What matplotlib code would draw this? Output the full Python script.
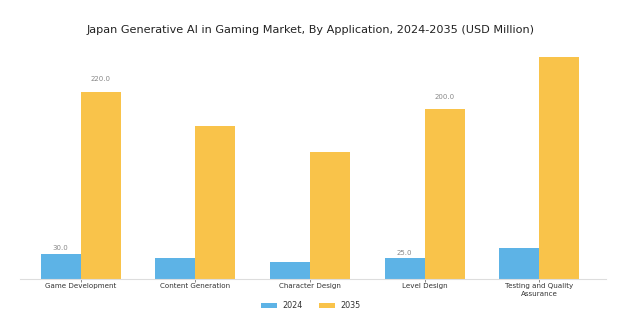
import matplotlib
matplotlib.use("Agg")
import matplotlib.pyplot as plt
import numpy as np

categories = ["Game Development", "Content Generation", "Character Design",
              "Level Design", "Testing and Quality\nAssurance"]
series_names = ["2024", "2035"]
values_2024 = [30, 25, 20, 25, 37]
values_2035 = [220, 180, 150, 200, 262]
labelled = [0, 3]  # categories whose bars carry value labels

colors = ["#5DB3E6", "#F9C34A"]

fig = plt.figure(figsize=(6.22, 3.34), dpi=100)
ax = fig.add_axes([0.032, 0.1647, 0.942, 0.6985])

x = np.arange(len(categories))
w = 0.35
b1 = ax.bar(x - w / 2, values_2024, w, color=colors[0], label=series_names[0])
b2 = ax.bar(x + w / 2, values_2035, w, color=colors[1], label=series_names[1])

for i in labelled:
    for xs, vals in ((x - w / 2, values_2024), (x + w / 2, values_2035)):
        v = vals[i]
        ax.text(xs[i], v * 1.05 + 4.6, f"{v:.1f}", ha="center", va="center",
                fontsize=5, color="#888888")

ax.set_xlim(-0.53, 4.58)
ax.set_ylim(0, 275)
ax.set_yticks([])
for s in ["top", "right", "left"]:
    ax.spines[s].set_visible(False)
ax.spines["bottom"].set_color("#dddddd")
ax.spines["bottom"].set_linewidth(0.8)
ax.set_xticks(x)
ax.set_xticklabels(categories, fontsize=5.15, color="#333333", linespacing=1.25)
ax.tick_params(axis="x", length=2, width=0.6, color="#777777", pad=1.2)

fig.suptitle("Japan Generative AI in Gaming Market, By Application, 2024-2035 (USD Million)",
             fontsize=8.1, y=0.925, color="#222222")

fig.legend(handles=[b1, b2], labels=series_names, loc="center", ncol=2,
           bbox_to_anchor=(0.5, 0.085), fontsize=5.8, frameon=False,
           handlelength=2.0, handleheight=0.5, handletextpad=0.7,
           columnspacing=2.0, labelcolor="#333333")

fig.savefig("out.png", dpi=100)
